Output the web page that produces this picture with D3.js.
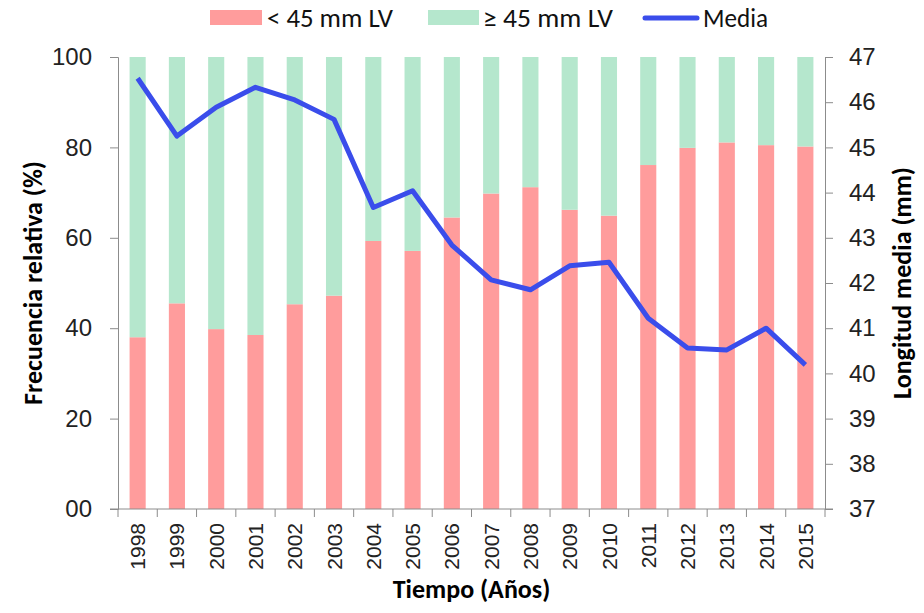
<!DOCTYPE html>
<meta charset="utf-8">
<style>
  body { margin: 0; background: #fff; }
  .tick text { fill: #222; }
  .axis path, .axis line { stroke: #8c8c8c; }
</style>
<body>
<script src="https://d3js.org/d3.v7.min.js"></script>
<script>

  // data
  var years = ["1998", "1999", "2000", "2001", "2002", "2003", "2004", "2005", "2006",
    "2007", "2008", "2009", "2010", "2011", "2012", "2013", "2014", "2015"];
  var menor45 = [38.0, 45.5, 39.8, 38.5, 45.3, 47.2, 59.3, 57.1, 64.5,
    69.8, 71.2, 66.2, 64.9, 76.1, 79.9, 81.1, 80.5, 80.2];
  var media = [46.53, 45.25, 45.89, 46.33, 46.05, 45.62, 43.67, 44.04, 42.84,
    42.07, 41.85, 42.38, 42.46, 41.22, 40.56, 40.52, 41.0, 40.19];
  var leftTicks = [0, 20, 40, 60, 80, 100];
  var rightTicks = [37, 38, 39, 40, 41, 42, 43, 44, 45, 46, 47];

  var colRed = "#ff9c9c", colGreen = "#b5e7cd", colBlue = "#3a4deb";

  var W = 924, H = 613;
  var margin = { top: 57, right: 99, bottom: 104, left: 118 },
    width = W - margin.left - margin.right,
    height = H - margin.top - margin.bottom;

  var svg = d3.select("body").append("svg")
    .attr("width", W).attr("height", H)
    .style("font-family", "Carlito, Calibri, Lato, 'Open Sans', sans-serif");

  var g = svg.append("g")
    .attr("transform", "translate(" + margin.left + "," + margin.top + ")");

  var x = d3.scaleBand().domain(years).range([0, width]).paddingInner(0.59).paddingOuter(0.295);
  var xc = d3.scaleBand().domain(years).range([0, width]);
  var y = d3.scaleLinear().domain([0, 100]).range([height, 0]);
  var y2 = d3.scaleLinear().domain([37, 47]).range([height, 0]);

  // stacked bars
  var rows = years.map(function (yr, i) { return { year: yr, a: menor45[i], b: 100 - menor45[i] }; });
  var stack = d3.stack().keys(["a", "b"])(rows);
  var colors = [colRed, colGreen];

  g.selectAll(".serie")
    .data(stack)
    .enter().append("g")
    .attr("fill", function (d, i) { return colors[i]; })
    .selectAll("rect")
    .data(function (d) { return d; })
    .enter().append("rect")
    .attr("x", function (d) { return x(d.data.year); })
    .attr("width", x.bandwidth())
    .attr("y", function (d) { return y(d[1]); })
    .attr("height", function (d) { return y(d[0]) - y(d[1]); });

  // line of the mean
  var line = d3.line()
    .x(function (d, i) { return xc(years[i]) + xc.bandwidth() / 2; })
    .y(function (d) { return y2(d); });

  g.append("path")
    .datum(media)
    .attr("fill", "none")
    .attr("stroke", colBlue)
    .attr("stroke-width", 5)
    .attr("stroke-linejoin", "round")
    .attr("d", line);

  // left axis
  var gl = g.append("g").attr("class", "axis")
    .call(d3.axisLeft(y).tickValues(leftTicks).tickFormat(d3.format("02d")).tickSizeOuter(0).tickSize(8).tickPadding(18));
  gl.selectAll("text").style("font-size", "24px");

  // right axis
  var gr = g.append("g").attr("class", "axis")
    .attr("transform", "translate(" + width + ",0)")
    .call(d3.axisRight(y2).tickValues(rightTicks).tickSizeOuter(0).tickSize(8).tickPadding(16));
  gr.selectAll("text").style("font-size", "24px");

  // bottom axis, ticks between categories
  var gb = g.append("g").attr("class", "axis")
    .attr("transform", "translate(0," + height + ")");
  gb.append("line").attr("x1", -8).attr("x2", width + 8).attr("stroke", "#8c8c8c");
  gb.selectAll(".sep")
    .data(years.concat(["end"]))
    .enter().append("line")
    .attr("x1", function (d, i) { return i < years.length ? xc(d) : width; })
    .attr("x2", function (d, i) { return i < years.length ? xc(d) : width; })
    .attr("y1", 0).attr("y2", 8)
    .attr("stroke", "#8c8c8c");
  gb.selectAll(".lab")
    .data(years)
    .enter().append("text")
    .attr("transform", function (d) {
      return "translate(" + (xc(d) + xc.bandwidth() / 2) + ",14) rotate(-90)";
    })
    .attr("dy", "0.36em")
    .attr("text-anchor", "end")
    .style("font-family", "'Liberation Sans', Arial, sans-serif")
    .style("font-size", "21px")
    .attr("fill", "#222")
    .text(function (d) { return d; });

  // axis titles
  svg.append("text")
    .attr("transform", "translate(42," + (margin.top + height / 2) + ") rotate(-90)")
    .attr("text-anchor", "middle")
    .style("font-weight", "bold").style("font-size", "26px")
    .text("Frecuencia relativa (%)");

  svg.append("text")
    .attr("transform", "translate(911," + (margin.top + height / 2) + ") rotate(-90)")
    .attr("text-anchor", "middle")
    .style("font-weight", "bold").style("font-size", "26px")
    .text("Longitud media (mm)");

  svg.append("text")
    .attr("x", margin.left + width / 2)
    .attr("y", 598)
    .attr("text-anchor", "middle")
    .style("font-weight", "bold").style("font-size", "26px")
    .text("Tiempo (Años)");

  // legend (text is a bit squeezed in the original)
  var legend = svg.append("g");
  function legendText(tx, ty, w, label) {
    var t = legend.append("text")
      .style("font-size", "27px").attr("fill", "#111")
      .text(label);
    var len = t.node().getComputedTextLength();
    t.attr("transform", "translate(" + tx + "," + ty + ") scale(" + (w / len) + ",1)");
  }
  legend.append("rect").attr("x", 210).attr("y", 10).attr("width", 52).attr("height", 15).attr("fill", colRed);
  legendText(267, 27, 126, "< 45 mm LV");
  legend.append("rect").attr("x", 428).attr("y", 10).attr("width", 51).attr("height", 15).attr("fill", colGreen);
  legendText(483, 27, 130, "≥ 45 mm LV");
  legend.append("line").attr("x1", 645).attr("x2", 697).attr("y1", 18).attr("y2", 18)
    .attr("stroke", colBlue).attr("stroke-width", 5).attr("stroke-linecap", "round");
  legendText(703, 27, 65, "Media");

</script>
</body>
